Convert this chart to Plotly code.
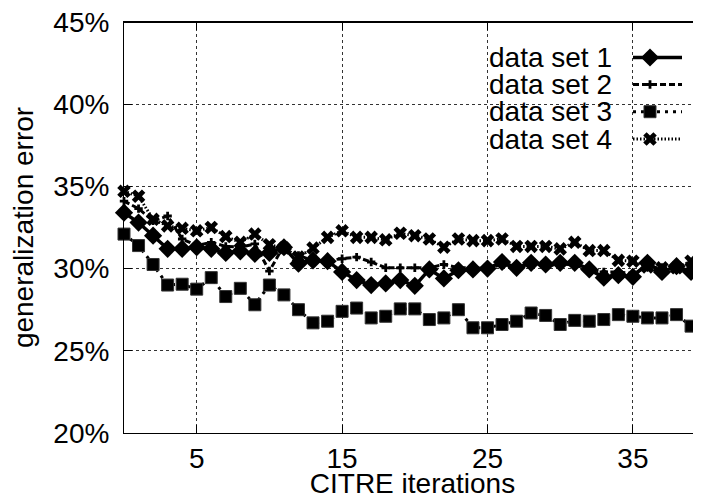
import plotly.graph_objects as go

# ---- data ----
iterations = list(range(40))
data_set_1 = [33.4, 32.8, 32.0, 31.2, 31.2, 31.3, 31.2, 30.95, 31.05, 30.9,
              30.95, 31.3, 30.3, 30.5, 30.45, 29.8, 29.3, 29.0, 29.1, 29.3,
              28.95, 29.95, 29.4, 29.9, 29.95, 30.0, 30.4, 30.05, 30.35, 30.25,
              30.35, 30.35, 29.95, 29.45, 29.6, 29.5, 30.35, 29.8, 30.15, 29.8]
data_set_2 = [34.1, 33.65, 32.9, 33.2, 31.8, 31.4, 31.6, 31.35, 31.3, 31.5,
              29.85, 31.4, 30.8, 30.5, 30.5, 30.6, 30.7, 30.4, 30.05, 30.05,
              30.05, 30.05, 30.25, 30.05, 30.05, 30.0, 30.25, 30.1, 30.3, 30.15,
              30.3, 30.2, 30.0, 29.8, 29.8, 29.7, 30.1, 29.75, 29.95, 29.9]
data_set_3 = [32.1, 31.4, 30.25, 29.0, 29.05, 28.75, 29.45, 28.3, 28.8, 27.8,
              29.0, 28.4, 27.5, 26.7, 26.8, 27.4, 27.6, 27.0, 27.1, 27.55,
              27.55, 26.9, 27.0, 27.5, 26.4, 26.4, 26.6, 26.8, 27.3, 27.15,
              26.6, 26.85, 26.8, 26.9, 27.2, 27.1, 27.0, 27.0, 27.2, 26.5]
data_set_4 = [34.7, 34.4, 33.0, 32.6, 32.45, 32.3, 32.5, 31.95, 31.6, 32.1,
              31.45, 31.25, 30.7, 31.25, 31.9, 32.3, 31.9, 31.9, 31.75, 32.15,
              32.0, 31.8, 31.3, 31.8, 31.7, 31.7, 31.8, 31.35, 31.35, 31.35,
              31.2, 31.6, 31.1, 31.1, 30.5, 30.45, 30.1, 30.05, 30.05, 30.45]
series_names = ["data set 1", "data set 2", "data set 3", "data set 4"]
x_ticks = [5, 15, 25, 35]
y_ticks = [20, 25, 30, 35, 40, 45]
y_tick_labels = [f"{v}%" for v in y_ticks]

# ---- styles ----
FONT = "Liberation Sans, Arial, Helvetica, sans-serif"
FS = 28
styles = [
    dict(line=dict(color="black", width=3.5),
         marker=dict(symbol="diamond", size=14, color="black")),
    dict(line=dict(color="black", width=3, dash="6px,3px"),
         marker=dict(symbol="cross", size=7, color="black")),
    dict(line=dict(color="black", width=3, dash="3px,5px"),
         marker=dict(symbol="square", size=12, color="black",
                     line=dict(color="#333", width=1))),
    dict(line=dict(color="black", width=3, dash="1.5px,2px"),
         marker=dict(symbol="x", size=12, color="black")),
]
all_series = [data_set_1, data_set_2, data_set_3, data_set_4]

fig = go.Figure()
for name, ys, st in zip(series_names, all_series, styles):
    fig.add_trace(go.Scatter(x=iterations, y=ys, name=name, mode="lines+markers",
                             line=st["line"], marker=st["marker"],
                             cliponaxis=False, showlegend=False))

# ---- page geometry (the page body has an 8px margin) ----
OFF = 8
W, H = 701, 499
L, R, T, B = 124, 701, 22, 433   # plot area in page pixels

# ---- custom legend (text left, key right, like gnuplot) ----
# overlay axes measured in page-pixel units of the plot area
legend_rows = [57.5, 84.5, 111.7, 139.0]
key_x0, key_x1, key_mark = 633, 682, 650
text_right = 614
for name, st, row in zip(series_names, styles, legend_rows):
    fig.add_trace(go.Scatter(x=[key_x0, key_x1], y=[row, row], mode="lines",
                             line=st["line"], xaxis="x2", yaxis="y2",
                             showlegend=False, hoverinfo="skip"))
    fig.add_trace(go.Scatter(x=[key_mark], y=[row], mode="markers",
                             marker=st["marker"], xaxis="x2", yaxis="y2",
                             showlegend=False, hoverinfo="skip"))
    fig.add_annotation(x=text_right, y=row, xref="x2", yref="y2", text=name,
                       showarrow=False, xanchor="right", yanchor="middle",
                       font=dict(family=FONT, size=FS, color="black"))

# top border of the frame
fig.add_shape(type="line", xref="paper", yref="paper", x0=0, x1=1, y0=1, y1=1,
              layer="above", line=dict(color="black", width=2))

grid = dict(showgrid=True, gridcolor="#333", griddash="dot", gridwidth=1)
fig.update_layout(
    width=W - OFF, height=H - OFF,
    margin=dict(l=L - OFF, r=W - R, t=T - OFF, b=H - B, pad=0),
    paper_bgcolor="white", plot_bgcolor="white",
    font=dict(family=FONT, size=FS, color="black"),
    xaxis=dict(range=[0, (R - L) / 14.54], tickvals=x_ticks,
               ticks="inside", ticklen=8, tickcolor="black",
               showline=True, linecolor="black", linewidth=1, mirror="ticks",
               zeroline=False, ticklabelstandoff=0, automargin=False,
               ticklabeloverflow="allow",
               title=dict(text="CITRE iterations", standoff=5,
                          font=dict(size=FS)),
               **grid),
    yaxis=dict(range=[20, 45], tickvals=y_ticks, ticktext=y_tick_labels,
               ticks="inside", ticklen=8, tickcolor="black",
               showline=True, linecolor="black", linewidth=1, mirror=False,
               zeroline=False, ticklabelstandoff=8, automargin=False,
               ticklabeloverflow="allow",
               title=dict(text="generalization error", standoff=14,
                          font=dict(size=FS)),
               **grid),
    xaxis2=dict(overlaying="x", range=[L, R], visible=False, fixedrange=True),
    yaxis2=dict(overlaying="y", range=[B, T], visible=False, fixedrange=True),
)

fig.write_html("out.html")
